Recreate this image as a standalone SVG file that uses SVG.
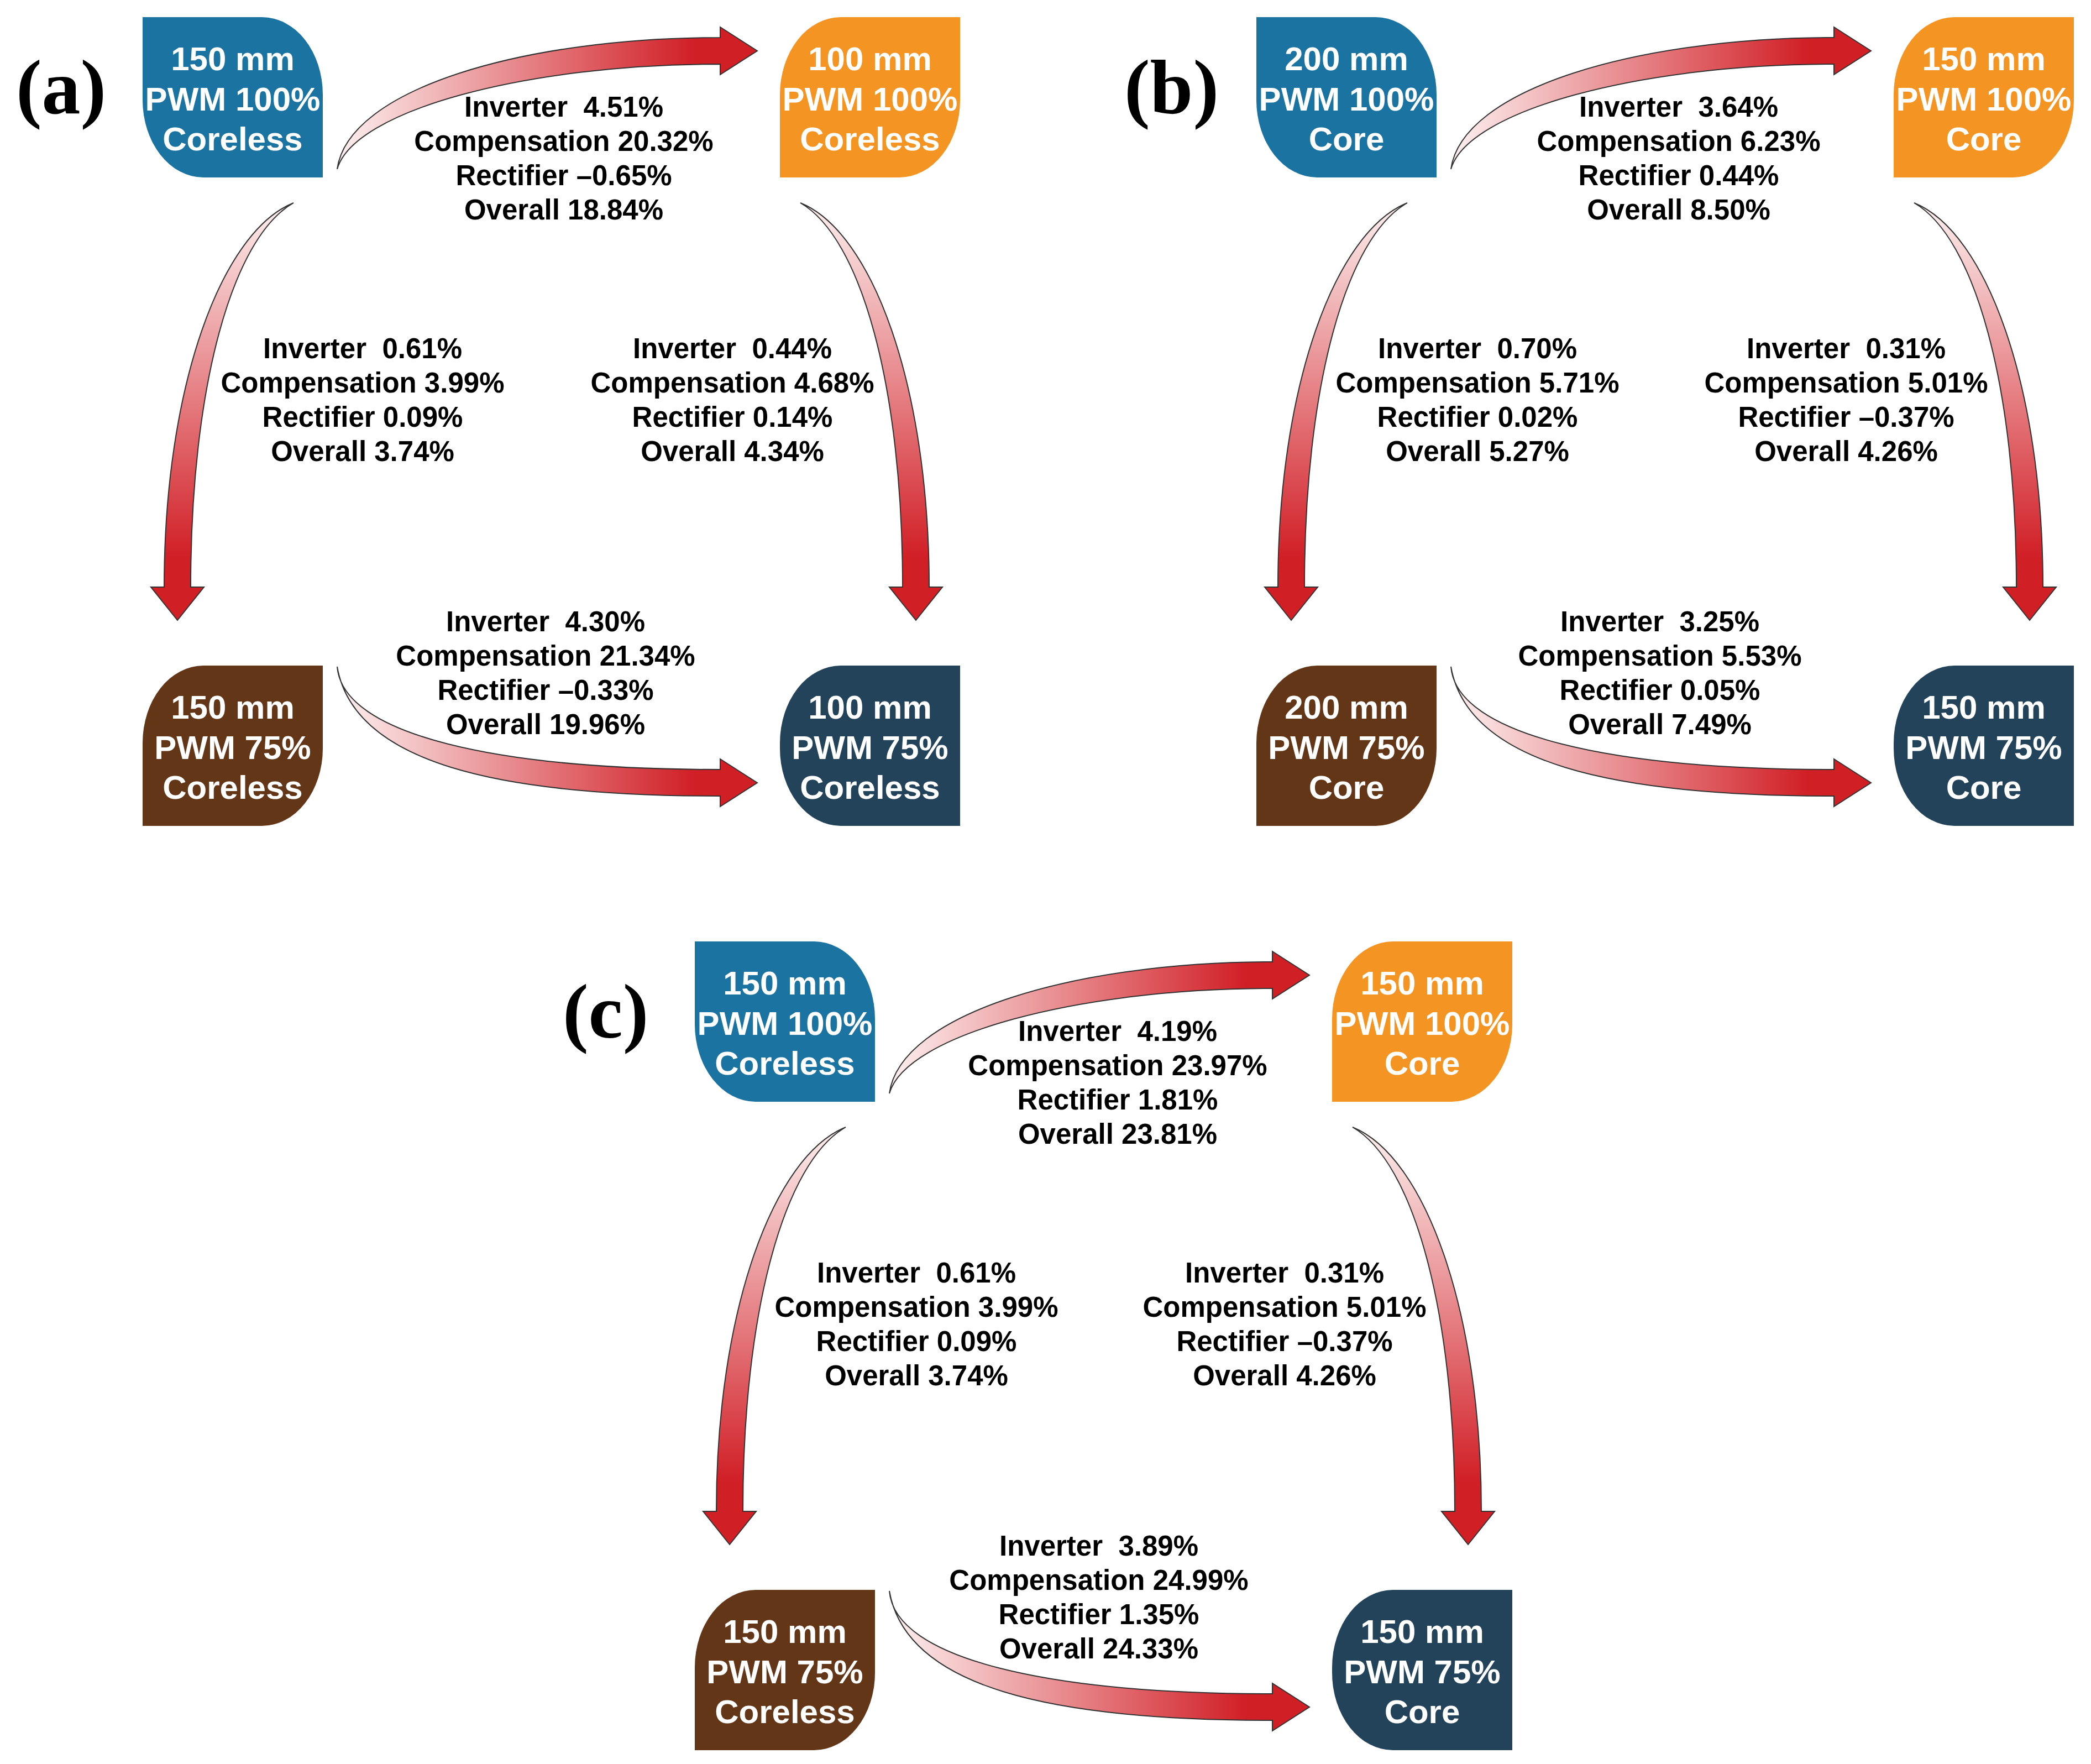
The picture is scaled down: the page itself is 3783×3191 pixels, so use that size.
<svg xmlns="http://www.w3.org/2000/svg" xmlns:xlink="http://www.w3.org/1999/xlink" width="3783" height="3191" viewBox="0 0 3783 3191">
<style>
.n{fill:#fff;font-family:"Liberation Sans",Arial,sans-serif;font-weight:bold;font-size:60px;text-anchor:middle}
.t{fill:#000;font-family:"Liberation Sans",Arial,sans-serif;font-weight:bold;font-size:51px;text-anchor:middle;white-space:pre}
.lab{fill:#000;font-family:"Liberation Serif","Times New Roman",serif;font-weight:bold;font-size:140px}
.ah{fill:url(#gh);stroke:#333;stroke-width:2}
.av{fill:url(#gv);stroke:#333;stroke-width:2}
</style>
<defs>
<linearGradient id="gh" x1="0" y1="0" x2="1" y2="0"><stop offset="0" stop-color="#fdf0f0"/><stop offset="0.85" stop-color="#d11f26"/></linearGradient>
<linearGradient id="gv" x1="0" y1="0" x2="0" y2="1"><stop offset="0" stop-color="#fdf0f0"/><stop offset="0.85" stop-color="#d11f26"/></linearGradient>
<path id="nA" d="M0,0 H216 A110,140 0 0 1 326,140 V290 H110 A110,140 0 0 1 0,150 Z"/>
<path id="nB" d="M110,0 H326 V150 A110,140 0 0 1 216,290 H0 V140 A110,140 0 0 1 110,0 Z"/>
<path id="nD" d="M110,0 H326 V290 H110 A110,140 0 0 1 0,150 V140 A110,140 0 0 1 110,0 Z"/>
<path id="arT" class="ah" d="M610,306 C630,160 950,68 1303,68 V49 L1370,92 L1303,135 V116 C950,116 640,200 610,306 Z"/>
<path id="arB" class="ah" d="M610,1206 C620,1330 900,1392 1303,1392 V1373 L1370,1416 L1303,1459 V1440 C900,1440 640,1380 610,1206 Z"/>
<path id="arL" class="av" d="M531,367 C400,420 297,700 297,1062 H273 L321,1122 L369,1062 H345 C345,700 420,430 531,367 Z"/>
<path id="arR" class="av" d="M1448,367 C1579,420 1681,700 1681,1062 H1705 L1657,1122 L1609,1062 H1633 C1633,700 1558,430 1448,367 Z"/>
</defs>

<g id="connectors">
<g><use xlink:href="#arT"/><use xlink:href="#arB"/><use xlink:href="#arL"/><use xlink:href="#arR"/></g>
<g transform="translate(2015,0)"><use xlink:href="#arT"/><use xlink:href="#arB"/><use xlink:href="#arL"/><use xlink:href="#arR"/></g>
<g transform="translate(999,1672)"><use xlink:href="#arT"/><use xlink:href="#arB"/><use xlink:href="#arL"/><use xlink:href="#arR"/></g>
</g>

<g id="labels">
<text class="lab" x="29" y="205">(a)</text>
<text class="lab" x="2034" y="205">(b)</text>
<text class="lab" x="1018" y="1877">(c)</text>
</g>

<g id="a-tl" transform="translate(258,31)"><use xlink:href="#nA" fill="#1a73a0"/><text class="n" x="163" y="96">150 mm</text><text class="n" x="163" y="169">PWM 100%</text><text class="n" x="163" y="241">Coreless</text></g>
<g id="a-tr" transform="translate(1411,31)"><use xlink:href="#nB" fill="#f39423"/><text class="n" x="163" y="96">100 mm</text><text class="n" x="163" y="169">PWM 100%</text><text class="n" x="163" y="241">Coreless</text></g>
<g id="a-bl" transform="translate(258,1204)"><use xlink:href="#nB" fill="#633617"/><text class="n" x="163" y="96">150 mm</text><text class="n" x="163" y="169">PWM 75%</text><text class="n" x="163" y="241">Coreless</text></g>
<g id="a-br" transform="translate(1411,1204)"><use xlink:href="#nD" fill="#22435a"/><text class="n" x="163" y="96">100 mm</text><text class="n" x="163" y="169">PWM 75%</text><text class="n" x="163" y="241">Coreless</text></g>

<g id="b-tl" transform="translate(2273,31)"><use xlink:href="#nA" fill="#1a73a0"/><text class="n" x="163" y="96">200 mm</text><text class="n" x="163" y="169">PWM 100%</text><text class="n" x="163" y="241">Core</text></g>
<g id="b-tr" transform="translate(3426,31)"><use xlink:href="#nB" fill="#f39423"/><text class="n" x="163" y="96">150 mm</text><text class="n" x="163" y="169">PWM 100%</text><text class="n" x="163" y="241">Core</text></g>
<g id="b-bl" transform="translate(2273,1204)"><use xlink:href="#nB" fill="#633617"/><text class="n" x="163" y="96">200 mm</text><text class="n" x="163" y="169">PWM 75%</text><text class="n" x="163" y="241">Core</text></g>
<g id="b-br" transform="translate(3426,1204)"><use xlink:href="#nD" fill="#22435a"/><text class="n" x="163" y="96">150 mm</text><text class="n" x="163" y="169">PWM 75%</text><text class="n" x="163" y="241">Core</text></g>

<g id="c-tl" transform="translate(1257,1703)"><use xlink:href="#nA" fill="#1a73a0"/><text class="n" x="163" y="96">150 mm</text><text class="n" x="163" y="169">PWM 100%</text><text class="n" x="163" y="241">Coreless</text></g>
<g id="c-tr" transform="translate(2410,1703)"><use xlink:href="#nB" fill="#f39423"/><text class="n" x="163" y="96">150 mm</text><text class="n" x="163" y="169">PWM 100%</text><text class="n" x="163" y="241">Core</text></g>
<g id="c-bl" transform="translate(1257,2876)"><use xlink:href="#nB" fill="#633617"/><text class="n" x="163" y="96">150 mm</text><text class="n" x="163" y="169">PWM 75%</text><text class="n" x="163" y="241">Coreless</text></g>
<g id="c-br" transform="translate(2410,2876)"><use xlink:href="#nD" fill="#22435a"/><text class="n" x="163" y="96">150 mm</text><text class="n" x="163" y="169">PWM 75%</text><text class="n" x="163" y="241">Core</text></g>

<g id="texts-a">
<text class="t" x="1020" y="211">Inverter  4.51%</text><text class="t" x="1020" y="273">Compensation 20.32%</text><text class="t" x="1020" y="335">Rectifier –0.65%</text><text class="t" x="1020" y="397">Overall 18.84%</text>
<text class="t" x="656" y="648">Inverter  0.61%</text><text class="t" x="656" y="710">Compensation 3.99%</text><text class="t" x="656" y="772">Rectifier 0.09%</text><text class="t" x="656" y="834">Overall 3.74%</text>
<text class="t" x="1325" y="648">Inverter  0.44%</text><text class="t" x="1325" y="710">Compensation 4.68%</text><text class="t" x="1325" y="772">Rectifier 0.14%</text><text class="t" x="1325" y="834">Overall 4.34%</text>
<text class="t" x="987" y="1142">Inverter  4.30%</text><text class="t" x="987" y="1204">Compensation 21.34%</text><text class="t" x="987" y="1266">Rectifier –0.33%</text><text class="t" x="987" y="1328">Overall 19.96%</text>
</g>
<g id="texts-b">
<text class="t" x="3037" y="211">Inverter  3.64%</text><text class="t" x="3037" y="273">Compensation 6.23%</text><text class="t" x="3037" y="335">Rectifier 0.44%</text><text class="t" x="3037" y="397">Overall 8.50%</text>
<text class="t" x="2673" y="648">Inverter  0.70%</text><text class="t" x="2673" y="710">Compensation 5.71%</text><text class="t" x="2673" y="772">Rectifier 0.02%</text><text class="t" x="2673" y="834">Overall 5.27%</text>
<text class="t" x="3340" y="648">Inverter  0.31%</text><text class="t" x="3340" y="710">Compensation 5.01%</text><text class="t" x="3340" y="772">Rectifier –0.37%</text><text class="t" x="3340" y="834">Overall 4.26%</text>
<text class="t" x="3003" y="1142">Inverter  3.25%</text><text class="t" x="3003" y="1204">Compensation 5.53%</text><text class="t" x="3003" y="1266">Rectifier 0.05%</text><text class="t" x="3003" y="1328">Overall 7.49%</text>
</g>
<g id="texts-c">
<text class="t" x="2022" y="1883">Inverter  4.19%</text><text class="t" x="2022" y="1945">Compensation 23.97%</text><text class="t" x="2022" y="2007">Rectifier 1.81%</text><text class="t" x="2022" y="2069">Overall 23.81%</text>
<text class="t" x="1658" y="2320">Inverter  0.61%</text><text class="t" x="1658" y="2382">Compensation 3.99%</text><text class="t" x="1658" y="2444">Rectifier 0.09%</text><text class="t" x="1658" y="2506">Overall 3.74%</text>
<text class="t" x="2324" y="2320">Inverter  0.31%</text><text class="t" x="2324" y="2382">Compensation 5.01%</text><text class="t" x="2324" y="2444">Rectifier –0.37%</text><text class="t" x="2324" y="2506">Overall 4.26%</text>
<text class="t" x="1988" y="2814">Inverter  3.89%</text><text class="t" x="1988" y="2876">Compensation 24.99%</text><text class="t" x="1988" y="2938">Rectifier 1.35%</text><text class="t" x="1988" y="3000">Overall 24.33%</text>
</g>
</svg>
